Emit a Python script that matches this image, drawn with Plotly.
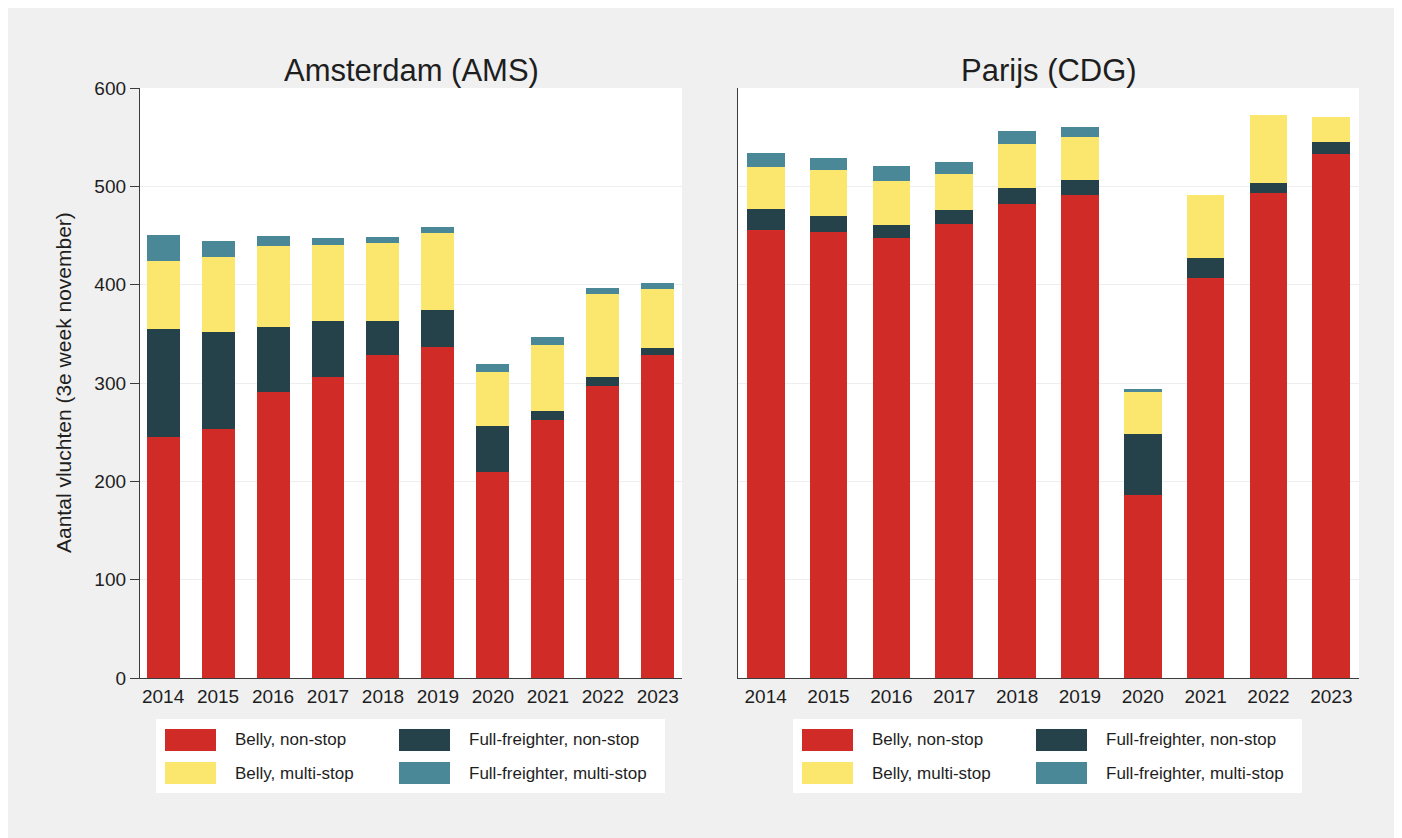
import plotly.graph_objects as go

# ---------------- data ----------------
years = [2014, 2015, 2016, 2017, 2018, 2019, 2020, 2021, 2022, 2023]
year_labels = [str(y) for y in years]

series_names = ["Belly, non-stop", "Full-freighter, non-stop",
                "Belly, multi-stop", "Full-freighter, multi-stop"]
series_colors = ["#d12b28", "#25414a", "#fbe76e", "#4a8797"]

ams_belly_nonstop = [245, 253, 291, 306, 328, 337, 210, 262, 297, 328]
ams_ff_nonstop = [110, 99, 66, 57, 35, 37, 46, 10, 9, 8]
ams_belly_multistop = [69, 76, 82, 77, 79, 79, 55, 67, 85, 60]
ams_ff_multistop = [27, 16, 11, 7, 6, 6, 8, 8, 6, 6]

cdg_belly_nonstop = [456, 454, 447, 462, 482, 491, 186, 407, 493, 533]
cdg_ff_nonstop = [21, 16, 14, 14, 16, 15, 62, 20, 10, 12]
cdg_belly_multistop = [43, 47, 44, 37, 45, 44, 43, 64, 70, 26]
cdg_ff_multistop = [14, 12, 16, 12, 13, 10, 3, 0, 0, 0]

panel_titles = ["Amsterdam (AMS)", "Parijs (CDG)"]
y_title = "Aantal vluchten (3e week november)"
y_ticks = [0, 100, 200, 300, 400, 500, 600]

# ---------------- layout geometry ----------------
OFF = 8  # page body margin
W, H = 1386, 830
ML, MT = 132, 80
MR = W - (1359 - OFF)
MB = H - (678 - OFF)
PW = W - ML - MR
PH = H - MT - MB


def px(x):
    return (x - OFF - ML) / PW


def py(y):
    return (H - MB - (y - OFF)) / PH


FONT = "Arial, 'Liberation Sans', sans-serif"
TXT = "#1e1e1e"
AXC = "#3c3c3c"
GRID = "#eeeeee"

fig = go.Figure()

panels = [
    ("x", "y", [ams_belly_nonstop, ams_ff_nonstop, ams_belly_multistop, ams_ff_multistop]),
    ("x2", "y2", [cdg_belly_nonstop, cdg_ff_nonstop, cdg_belly_multistop, cdg_ff_multistop]),
]
for xa, ya, vals in panels:
    for name, color, v in zip(series_names, series_colors, vals):
        fig.add_trace(go.Bar(
            x=years, y=v, name=name, xaxis=xa, yaxis=ya,
            marker=dict(color=color, line=dict(width=0)),
            width=0.6, showlegend=False,
        ))

left_dom = [0, px(682)]
right_dom = [px(738), 1]

xcommon = dict(
    type="linear", tickmode="array", tickvals=years, ticktext=year_labels,
    showline=True, linecolor=AXC, linewidth=1.3, showgrid=False, zeroline=False,
    ticks="outside", ticklen=1, tickcolor="rgba(0,0,0,0)",
    tickfont=dict(family=FONT, size=19, color=TXT), fixedrange=True,
)
ycommon = dict(
    range=[0, 600], tickmode="array", tickvals=y_ticks,
    showline=True, linecolor=AXC, linewidth=1.3, showgrid=True,
    gridcolor=GRID, gridwidth=1, zeroline=False, fixedrange=True,
)

fig.update_layout(
    width=W, height=H,
    margin=dict(l=ML, r=MR, t=MT, b=MB, pad=0),
    paper_bgcolor="#f0f0f0", plot_bgcolor="#ffffff",
    barmode="stack", bargap=0.4, showlegend=False,
    xaxis=dict(domain=left_dom, anchor="y", range=[2013.58, 2023.44], **xcommon),
    xaxis2=dict(domain=right_dom, anchor="y2", range=[2013.56, 2023.44], **xcommon),
    yaxis=dict(domain=[0, 1], anchor="x", ticks="outside", ticklen=9,
               tickcolor=AXC, tickwidth=1.3,
               tickfont=dict(family=FONT, size=19, color=TXT), **ycommon),
    yaxis2=dict(domain=[0, 1], anchor="x2", ticks="", showticklabels=False, **ycommon),
)

# panel titles
for title, dom in zip(panel_titles, [left_dom, right_dom]):
    fig.add_annotation(
        text=title, xref="paper", yref="paper",
        x=(dom[0] + dom[1]) / 2, y=py(70), xanchor="center", yanchor="middle",
        showarrow=False, font=dict(family=FONT, size=31, color=TXT),
    )

# y axis title
fig.add_annotation(
    text=y_title, xref="paper", yref="paper", x=px(63), y=py(383),
    xanchor="center", yanchor="middle", textangle=-90, showarrow=False,
    font=dict(family=FONT, size=21, color=TXT),
)

# custom legends (one per panel)
shapes = []
legend_lefts = [156, 793]
box_w = 509
for lx in legend_lefts:
    shapes.append(dict(type="rect", xref="paper", yref="paper",
                       x0=px(lx), x1=px(lx + box_w), y0=py(793), y1=py(719),
                       fillcolor="#ffffff", line=dict(width=0), layer="below"))
    col_x = [lx + 9, lx + 243]
    row_y = [(729, 751), (762, 784)]
    for i, (name, color) in enumerate(zip(series_names, series_colors)):
        r, c = i // 2, i % 2
        sx = col_x[c]
        y0, y1 = row_y[r]
        shapes.append(dict(type="rect", xref="paper", yref="paper",
                           x0=px(sx), x1=px(sx + 51), y0=py(y1), y1=py(y0),
                           fillcolor=color, line=dict(width=0), layer="above"))
        fig.add_annotation(
            text=name, xref="paper", yref="paper", x=px(sx + 68), y=py((y0 + y1) / 2),
            xanchor="left", yanchor="middle", showarrow=False,
            font=dict(family=FONT, size=17, color=TXT),
        )

fig.update_layout(shapes=shapes)

fig.write_html("out.html")
